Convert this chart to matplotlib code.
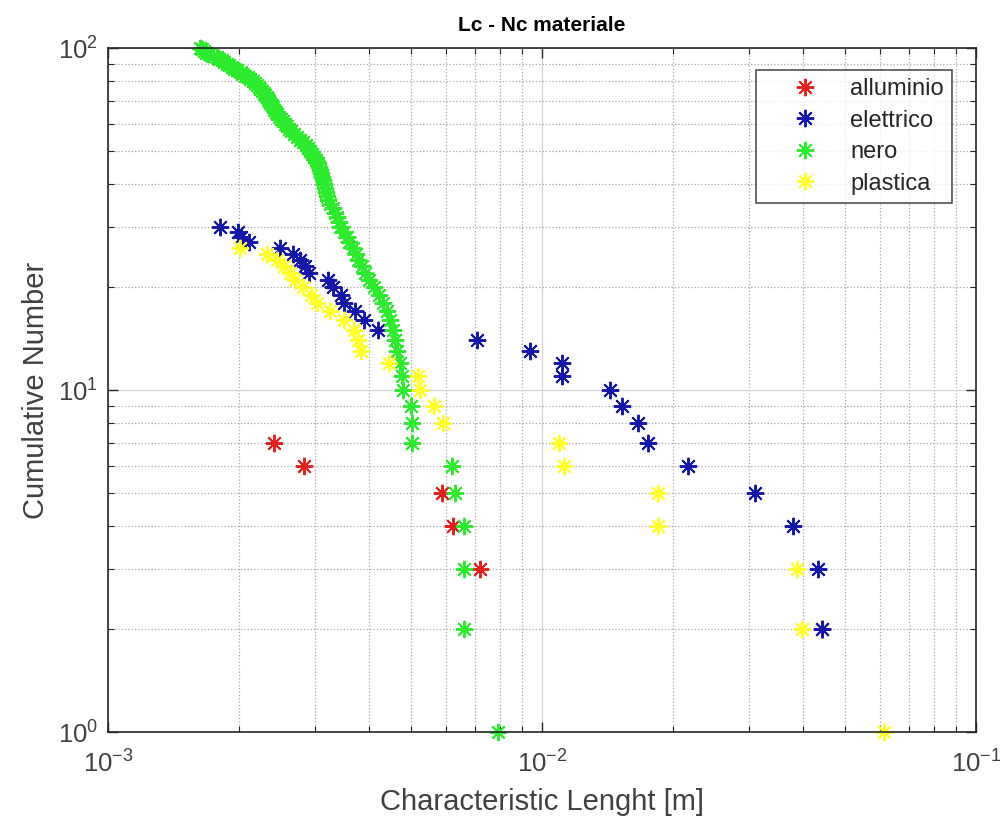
import matplotlib
matplotlib.use('Agg')
import matplotlib.pyplot as plt

plt.rcParams['font.family'] = ['Liberation Sans', 'DejaVu Sans']
plt.rcParams['mathtext.fontset'] = 'custom'
plt.rcParams['mathtext.rm'] = 'Liberation Sans'

# characteristic length [m] for each cumulative number
alluminio_N = [7, 6, 5, 4, 3, 2]
alluminio_L = [0.00241, 0.00283, 0.00587, 0.00623, 0.00720, 0.0441]

elettrico_N = list(range(30, 1, -1))
elettrico_L = [0.00181, 0.00199, 0.00203, 0.00211, 0.00249, 0.00267, 0.00277,
               0.00284, 0.00290, 0.00322, 0.00330, 0.00345, 0.00350, 0.00371,
               0.00388, 0.00420, 0.00707, 0.00938, 0.01114, 0.01114, 0.01435,
               0.01526, 0.01667, 0.01758, 0.02174, 0.03096, 0.03781, 0.04332,
               0.0441]

nero_N = list(range(100, 0, -1))
nero_L = [1.63, 1.65, 1.66, 1.68, 1.71, 1.75, 1.78, 1.80, 1.83, 1.85,
          1.88, 1.90, 1.93, 1.95, 1.98, 2.02, 2.04, 2.07, 2.10, 2.12,
          2.16, 2.18, 2.20, 2.23, 2.24, 2.26, 2.29, 2.30, 2.33, 2.34,
          2.35, 2.36, 2.39, 2.40, 2.41, 2.44, 2.45, 2.48, 2.50, 2.53,
          2.56, 2.58, 2.61, 2.64, 2.68, 2.73, 2.77, 2.81, 2.86, 2.89,
          2.92, 2.95, 2.98, 3.02, 3.05, 3.06, 3.08, 3.10, 3.11, 3.13,
          3.15, 3.16, 3.18, 3.20, 3.21, 3.25, 3.30, 3.33, 3.37, 3.41,
          3.43, 3.50, 3.55, 3.59, 3.67, 3.73, 3.77, 3.85, 3.91, 3.99,
          4.10, 4.21, 4.30, 4.40, 4.47, 4.54, 4.59, 4.63, 4.71, 4.76,
          4.78, 4.99, 5.02, 5.02, 6.20, 6.30, 6.61, 6.61, 6.61, 7.92]
nero_L = [v * 1e-3 for v in nero_L]

plastica_N = list(range(26, 0, -1))
plastica_L = [0.00201, 0.00232, 0.00245, 0.00254, 0.00262, 0.00270, 0.00282,
              0.00293, 0.00303, 0.00325, 0.00350, 0.00368, 0.00377, 0.00383,
              0.00443, 0.00519, 0.00524, 0.00563, 0.00590, 0.01096, 0.01124,
              0.01854, 0.01854, 0.03863, 0.03967, 0.0614]

series = [
    ('alluminio', alluminio_L, alluminio_N, '#e01f1f'),
    ('elettrico', elettrico_L, elettrico_N, '#1515a8'),
    ('nero', nero_L, nero_N, '#2eea2e'),
    ('plastica', plastica_L, plastica_N, '#ffff2a'),
]

fig = plt.figure(figsize=(10.02, 8.26), dpi=100)
ax = fig.add_axes([108 / 1002, 1 - 732 / 826, 868 / 1002, 684 / 826])

for name, L, N, col in series:
    ax.plot(L, N, linestyle='none', marker=(8, 2, 0), markersize=12.5,
            markeredgewidth=1.4, color=col, label=name, clip_on=False)

ax.set_xscale('log')
ax.set_yscale('log')
ax.set_xlim(1e-3, 1e-1)
ax.set_ylim(1, 100)

ax.grid(True, which='major', color='#d4d4d4', linestyle='-', linewidth=0.9)
ax.grid(True, which='minor', color='#a8a8a8', linestyle=':', linewidth=0.9)
ax.set_axisbelow(True)
ax.tick_params(which='both', direction='in', top=True, right=True,
               color='#262626', labelcolor='#404040', labelsize=18.5)
ax.tick_params(which='major', length=7, width=1.0)
ax.tick_params(which='minor', length=4, width=0.8)
ax.tick_params(axis='x', pad=13)
ax.tick_params(axis='y', pad=7)
for sp in ax.spines.values():
    sp.set_color('#262626')
    sp.set_linewidth(1.2)

ax.set_title('Lc - Nc materiale', fontsize=15, fontweight='bold', pad=12)
ax.set_xlabel('Characteristic Lenght [m]', fontsize=21, color='#404040', labelpad=8)
ax.set_ylabel('Cumulative Number', fontsize=21, color='#404040', labelpad=6)

leg = ax.legend(loc='upper right', bbox_to_anchor=(952 / 1002, 1 - 70 / 826),
                bbox_transform=fig.transFigure, fontsize=17, frameon=True,
                fancybox=False, edgecolor='#262626', borderpad=0.35,
                labelspacing=0.4, handletextpad=0.17, handlelength=3.47,
                borderaxespad=0)
leg.get_frame().set_linewidth(1.2)
for t in leg.get_texts():
    t.set_color('#262626')

fig.savefig('out.png', dpi=100, facecolor='white')
